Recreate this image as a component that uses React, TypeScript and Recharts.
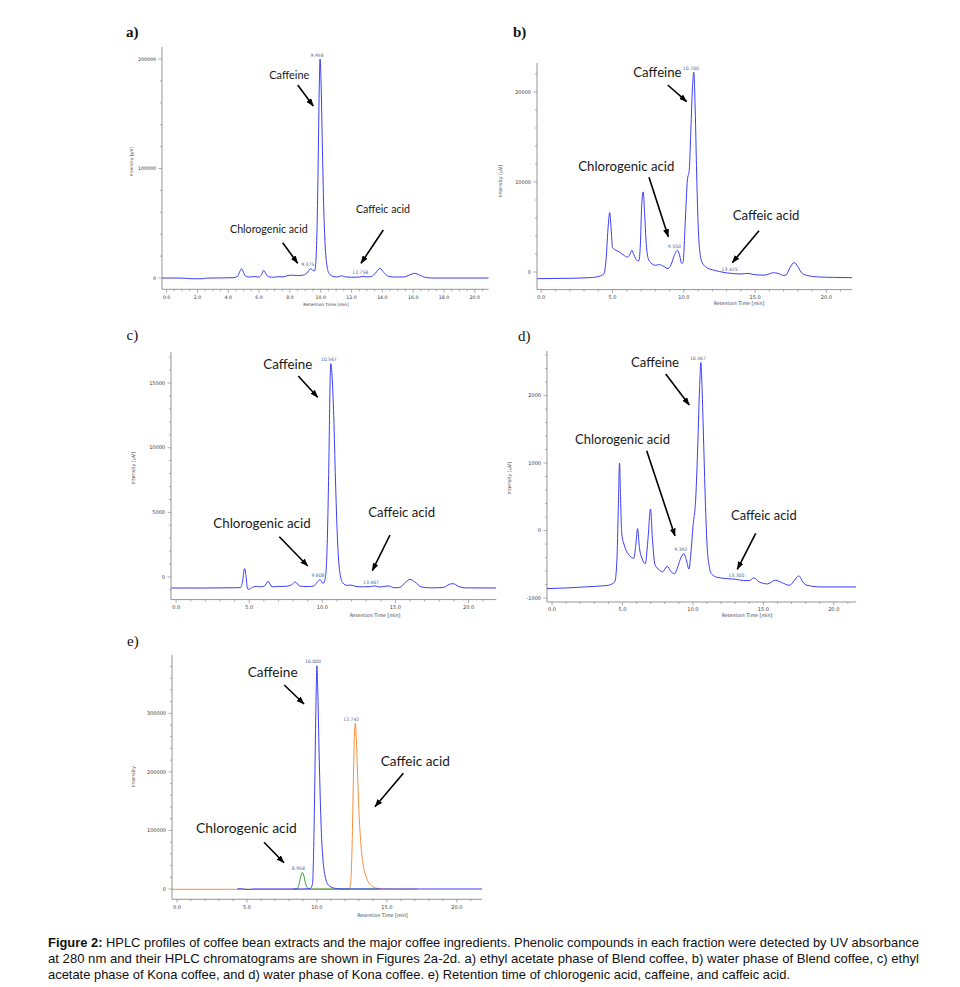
import React from "react";
import { LineChart, Line, XAxis, YAxis, ReferenceDot } from "recharts";

type Pt = [number, number];

// retention time [min], intensity
const traceA: Pt[] = [
  [-0.3, 0], [0.5, 0], [1.2, -200], [1.5, -600], [2.3, -700], [2.6, -100], [3.5, 100], [4.3, 300],
  [4.6, 1500], [4.75, 6000], [4.85, 8500], [4.95, 6500], [5.1, 2000], [5.3, 900], [5.7, 1300], [6.0, 900],
  [6.15, 3000], [6.3, 7000], [6.42, 4500], [6.6, 1200], [7.0, 700], [7.3, 1300], [7.55, 1000], [7.8, 2000],
  [8.1, 2600], [8.5, 2200], [8.8, 2500], [9.1, 4500], [9.35, 8500], [9.5, 6800], [9.6, 6500], [9.68, 14000],
  [9.76, 45000], [9.84, 110000], [9.9, 170000], [9.958, 200000], [10.02, 180000], [10.1, 125000],
  [10.2, 62000], [10.3, 27000], [10.42, 10000], [10.55, 4000], [10.8, 1500], [11.1, 1000], [11.36, 2100],
  [11.6, 1000], [12.0, 700], [12.5, 900], [12.76, 1500], [13.0, 1000], [13.3, 1500], [13.55, 4500],
  [13.84, 8800], [14.1, 5000], [14.4, 1500], [14.8, 900], [15.4, 1000], [15.8, 3000], [16.1, 4300],
  [16.4, 2800], [16.8, 500], [17.3, 0], [20.9, 0],
];

const traceB: Pt[] = [
  [-0.3, -740], [2.0, -700], [3.5, -620], [4.1, -450], [4.4, -200], [4.55, 1500], [4.7, 5200], [4.8, 6600],
  [4.9, 4800], [5.0, 2700], [5.2, 2450], [5.5, 2200], [5.8, 1850], [6.05, 1650], [6.2, 1900], [6.35, 2400],
  [6.5, 1900], [6.7, 1300], [6.85, 1250], [6.95, 3000], [7.05, 7500], [7.15, 8900], [7.25, 6500],
  [7.35, 3500], [7.5, 1500], [7.7, 1000], [8.0, 750], [8.3, 820], [8.6, 600], [8.9, 380], [9.1, 800],
  [9.3, 1700], [9.55, 2400], [9.7, 1900], [9.85, 950], [9.95, 1100], [10.1, 5500], [10.25, 10200],
  [10.38, 11300], [10.5, 16000], [10.6, 20200], [10.7, 22200], [10.8, 18000], [10.9, 11000], [11.0, 5500],
  [11.1, 2600], [11.3, 1000], [11.6, 500], [12.0, 250], [12.5, 50], [13.0, -100], [13.5, -180],
  [14.0, -220], [14.5, -150], [14.8, -250], [15.2, -330], [15.7, -350], [16.0, -200], [16.3, -80],
  [16.6, -150], [17.0, -380], [17.2, -300], [17.45, 500], [17.75, 1050], [18.0, 600], [18.3, -150],
  [18.7, -400], [19.4, -550], [20.5, -600], [21.8, -630],
];

const traceC: Pt[] = [
  [-0.35, -850], [2.0, -850], [4.0, -830], [4.4, -820], [4.55, -300], [4.68, 650], [4.78, 100],
  [4.88, -900], [4.98, -950], [5.2, -800], [5.5, -720], [5.8, -760], [6.05, -700], [6.3, -330],
  [6.55, -760], [7.0, -730], [7.5, -720], [7.9, -600], [8.15, -390], [8.45, -700], [9.0, -740],
  [9.4, -700], [9.65, -400], [9.84, -200], [10.05, -500], [10.2, -100], [10.32, 2000], [10.45, 9000],
  [10.53, 15000], [10.58, 16500], [10.67, 15500], [10.78, 12500], [10.9, 7500], [11.03, 3100],
  [11.18, 500], [11.4, -450], [11.7, -650], [11.95, -620], [12.3, -730], [12.8, -760], [13.3, -740],
  [13.6, -690], [13.9, -770], [14.3, -720], [14.55, -690], [14.9, -830], [15.3, -800], [15.7, -400],
  [16.0, -180], [16.3, -350], [16.8, -780], [17.5, -840], [18.3, -800], [18.7, -560], [18.95, -520],
  [19.3, -720], [19.8, -840], [21.9, -850],
];

const traceD: Pt[] = [
  [-0.36, -860], [1.0, -850], [2.3, -835], [3.5, -820], [4.0, -810], [4.45, -760], [4.6, -450],
  [4.7, 300], [4.79, 1000], [4.86, 500], [4.95, -50], [5.15, -230], [5.5, -370], [5.8, -410],
  [5.95, -200], [6.07, 30], [6.2, -250], [6.4, -420], [6.62, -490], [6.8, -150], [6.99, 320],
  [7.12, -100], [7.3, -500], [7.6, -580], [7.85, -610], [8.17, -530], [8.45, -610], [8.7, -640],
  [8.95, -520], [9.15, -400], [9.36, -340], [9.55, -450], [9.72, -570], [9.85, -350], [10.0, 50],
  [10.2, 480], [10.35, 1300], [10.47, 2100], [10.567, 2490], [10.65, 2100], [10.75, 1400], [10.88, 450],
  [11.0, -200], [11.15, -520], [11.35, -650], [11.7, -690], [12.3, -710], [13.0, -720], [13.6, -740],
  [14.0, -740], [14.33, -700], [14.7, -760], [15.3, -790], [15.85, -735], [16.3, -770], [16.85, -810],
  [17.2, -740], [17.52, -670], [17.8, -760], [18.1, -810], [19.1, -835], [21.6, -835],
];

const traceECaffeine: Pt[] = [
  [4.3, 0], [4.5, 600], [4.7, 0], [5.2, -800], [5.4, 0], [9.0, 0], [9.5, 500], [9.68, 8000],
  [9.76, 60000], [9.84, 170000], [9.92, 300000], [10.0, 381000], [10.06, 340000], [10.14, 250000],
  [10.22, 170000], [10.32, 95000], [10.45, 45000], [10.6, 20000], [10.75, 9000], [11.0, 3500],
  [11.4, 800], [12.0, 0], [21.8, 0],
];

const traceEChlorogenic: Pt[] = [
  [8.3, 0], [8.6, 500], [8.7, 6000], [8.8, 17000], [8.9, 26000], [8.958, 28500], [9.05, 24000],
  [9.15, 13000], [9.25, 5000], [9.4, 1000], [9.6, 0], [14.5, 0],
];

const traceECaffeic: Pt[] = [
  [-0.36, -500], [12.0, -500], [12.3, 0], [12.4, 8000], [12.5, 60000], [12.6, 180000], [12.68, 260000],
  [12.742, 283000], [12.8, 265000], [12.9, 200000], [13.0, 135000], [13.15, 75000], [13.3, 42000],
  [13.5, 22000], [13.7, 11000], [14.0, 4000], [14.4, 800], [15.0, 0], [17.2, -300],
];

// peak retention-time labels
const peaksA = [
  { t: 9.958, v: 200000, label: "9.958" },
  { t: 9.35, v: 8500, label: "9.375" },
  { t: 12.76, v: 1500, label: "12.758" },
];
const peaksB = [
  { t: 10.7, v: 22200, label: "10.700" },
  { t: 9.55, v: 2400, label: "9.550" },
  { t: 13.425, v: -180, label: "13.425" },
];
const peaksC = [
  { t: 10.58, v: 16500, label: "10.567" },
  { t: 9.84, v: -200, label: "9.808" },
  { t: 13.467, v: -720, label: "13.467" },
];
const peaksD = [
  { t: 10.567, v: 2490, label: "10.567" },
  { t: 9.36, v: -340, label: "9.392" },
  { t: 13.3, v: -720, label: "13.300" },
];
const peaksE = [
  { t: 10.0, v: 381000, label: "10.000" },
  { t: 12.742, v: 283000, label: "12.742" },
  { t: 8.958, v: 28500, label: "8.958" },
];

// major tick labels
const xMajorA = [0, 2, 4, 6, 8, 10, 12, 14, 16, 18, 20];
const xMajor = [0, 5, 10, 15, 20];
const yMajorA = [0, 100000, 200000];
const yMajorB = [0, 10000, 20000];
const yMajorC = [0, 5000, 10000, 15000];
const yMajorD = [-1000, 0, 1000, 2000];
const yMajorE = [0, 100000, 200000, 300000];

const BLUE = "#3c3cf5";
const ORANGE = "#f5903c";
const GREEN = "#3a9a3a";
const AXIS = "#7a7a7a";
const TICK_TEXT = "#3a3a3a";
const PEAK_TEXT = "#4a6a9a";
const TICK_FONT = "'DejaVu Sans', Verdana, sans-serif";

const toRows = (tr: Pt[]) => tr.map(([t, v]) => ({ t, v }));

function buildTicks([lo, hi]: number[], step: number) {
  const out: number[] = [];
  for (let i = Math.ceil(lo / step); i * step <= hi + 1e-9; i++) out.push(+(i * step).toFixed(4));
  return out;
}
const isMajor = (majors: number[], v: number) => majors.some((m) => Math.abs(m - v) < 1e-6);

const panels = [
  {
    key: "a", box: { l: 162.3, t: 46.7, r: 489, b: 289 }, xDomain: [-0.3, 20.9], yDomain: [-10300, 211000],
    xMajor: xMajorA, xStep: 0.5, yMajor: yMajorA, yStep: 20000, fs: 4.7, dx: -3,
    series: [{ data: traceA, color: BLUE }], peaks: peaksA,
  },
  {
    key: "b", box: { l: 537.3, t: 62.7, r: 852.3, b: 289.3 }, xDomain: [-0.3, 21.8], yDomain: [-1955, 23220],
    xMajor, xStep: 1, yMajor: yMajorB, yStep: 2000, fs: 5, dx: -3,
    series: [{ data: traceB, color: BLUE }], peaks: peaksB,
  },
  {
    key: "c", box: { l: 170.7, t: 351.7, r: 496, b: 599.3 }, xDomain: [-0.35, 21.9], yDomain: [-1747, 17400],
    xMajor, xStep: 1, yMajor: yMajorC, yStep: 1000, fs: 5, dx: -2,
    series: [{ data: traceC, color: BLUE }], peaks: peaksC,
  },
  {
    key: "d", box: { l: 546.7, t: 350.7, r: 856, b: 601.7 }, xDomain: [-0.36, 21.6], yDomain: [-1058, 2661],
    xMajor, xStep: 1, yMajor: yMajorD, yStep: 200, fs: 5, dx: -3,
    series: [{ data: traceD, color: BLUE }], peaks: peaksD,
  },
  {
    key: "e", box: { l: 171.7, t: 655, r: 481.7, b: 899.3 }, xDomain: [-0.36, 21.8], yDomain: [-17590, 399500],
    xMajor, xStep: 1, yMajor: yMajorE, yStep: 20000, fs: 5, dx: -4,
    series: [
      { data: traceECaffeic, color: ORANGE },
      { data: traceEChlorogenic, color: GREEN },
      { data: traceECaffeine, color: BLUE },
    ],
    peaks: peaksE,
  },
];

const YW = 40;

function Chromatogram({ p }: { p: (typeof panels)[number] }) {
  const w = p.box.r - p.box.l + YW + 10;
  const h = p.box.b - p.box.t + 10 + 30;
  const xTicks = buildTicks(p.xDomain, p.xStep);
  const yTicks = buildTicks(p.yDomain, p.yStep);
  return (
    <div style={{ position: "absolute", left: p.box.l - YW, top: p.box.t - 10 }}>
      <LineChart width={w} height={h} margin={{ top: 10, right: 10, bottom: 0, left: 0 }}>
        <XAxis
          type="number" dataKey="t" domain={p.xDomain} allowDataOverflow ticks={xTicks} interval={0}
          tickSize={0} tickMargin={0} tickLine={false} height={30}
          axisLine={{ stroke: AXIS, strokeWidth: 0.8 }}
          tick={(props: any) => {
            const major = isMajor(p.xMajor, props.payload.value);
            return (
              <g>
                <line x1={props.x} x2={props.x} y1={props.y} y2={props.y + (major ? 3.5 : 2)} stroke={AXIS} strokeWidth={0.6} />
                {major && (
                  <text x={props.x} y={props.y + 9.5} textAnchor="middle" fontSize={p.fs} fill={TICK_TEXT} fontFamily={TICK_FONT}>
                    {props.payload.value.toFixed(1)}
                  </text>
                )}
              </g>
            );
          }}
        />
        <YAxis
          type="number" domain={p.yDomain} allowDataOverflow ticks={yTicks} interval={0}
          tickSize={0} tickMargin={0} tickLine={false} width={YW}
          axisLine={{ stroke: AXIS, strokeWidth: 0.8 }}
          tick={(props: any) => {
            const major = isMajor(p.yMajor, props.payload.value);
            return (
              <g>
                <line x1={props.x} x2={props.x - (major ? 3.5 : 2)} y1={props.y} y2={props.y} stroke={AXIS} strokeWidth={0.6} />
                {major && (
                  <text x={props.x - 6} y={props.y + 1.8} textAnchor="end" fontSize={p.fs} fill={TICK_TEXT} fontFamily={TICK_FONT}>
                    {String(props.payload.value)}
                  </text>
                )}
              </g>
            );
          }}
        />
        {p.series.map((s, i) => (
          <Line
            key={i} data={toRows(s.data)} dataKey="v" type="monotone" stroke={s.color} strokeWidth={1}
            dot={false} activeDot={false} isAnimationActive={false}
          />
        ))}
        {p.peaks.map((pk) => (
          <ReferenceDot
            key={pk.label} x={pk.t} y={pk.v} r={0} ifOverflow="visible"
            shape={(props: any) => (
              <text x={props.cx + p.dx} y={props.cy - 2.5} textAnchor="middle" fontSize={4.6} fill={PEAK_TEXT} fontFamily={TICK_FONT}>
                {pk.label}
              </text>
            )}
          />
        ))}
      </LineChart>
    </div>
  );
}

// page-level annotation layout
const notes = [
  { text: "Caffeine", x: 269.3, y: 79, w: 40, fs: 11 },
  { text: "Chlorogenic acid", x: 230, y: 233.3, w: 77.7, fs: 11 },
  { text: "Caffeic acid", x: 356, y: 212.7, w: 54, fs: 11 },
  { text: "Caffeine", x: 633.3, y: 76.7, w: 48.3, fs: 13 },
  { text: "Chlorogenic acid", x: 578.3, y: 170.7, w: 96, fs: 13 },
  { text: "Caffeic acid", x: 732.7, y: 220, w: 66.7, fs: 13 },
  { text: "Caffeine", x: 263.3, y: 369.3, w: 49, fs: 13 },
  { text: "Chlorogenic acid", x: 213.3, y: 528.3, w: 97.4, fs: 13 },
  { text: "Caffeic acid", x: 368.3, y: 516.7, w: 66.7, fs: 13 },
  { text: "Caffeine", x: 631, y: 366.7, w: 48, fs: 13 },
  { text: "Chlorogenic acid", x: 575, y: 444, w: 95, fs: 13 },
  { text: "Caffeic acid", x: 731, y: 520, w: 65.7, fs: 13 },
  { text: "Caffeine", x: 247.7, y: 676.7, w: 50, fs: 13 },
  { text: "Caffeic acid", x: 380.7, y: 766, w: 69.3, fs: 13 },
  { text: "Chlorogenic acid", x: 196, y: 833.3, w: 100.7, fs: 13 },
];

const arrows = [
  [297.7, 85, 313.3, 106], [282.7, 242.7, 297.7, 263.3], [383.3, 230, 361, 263.3],
  [667.7, 85, 686.7, 101.7], [649, 177.3, 668.3, 236.7], [759, 230.7, 732.3, 262.7],
  [298.3, 376, 317.7, 397.3], [279.3, 536.7, 307.7, 566], [390, 535, 372.3, 570.7],
  [665.7, 374, 689.3, 405], [646.7, 450.7, 675, 536], [755.7, 533.3, 737.3, 569.3],
  [284.3, 685, 304, 704], [403.3, 773.3, 375, 806.7], [264, 842.3, 284, 862.7],
];

const axisTitles = [
  { text: "Intensity [µV]", x: 131.7, y: 161.7, rot: true, fs: 4.3 },
  { text: "Retention Time [min]", x: 326, y: 304.3, rot: false, fs: 4.3 },
  { text: "Intensity [µV]", x: 500, y: 181, rot: true, fs: 4.8 },
  { text: "Retention Time [min]", x: 739, y: 303.3, rot: false, fs: 4.8 },
  { text: "Intensity [µV]", x: 134, y: 468.3, rot: true, fs: 4.8 },
  { text: "Retention Time [min]", x: 375, y: 615, rot: false, fs: 4.8 },
  { text: "Intensity [µV]", x: 510, y: 478.3, rot: true, fs: 4.8 },
  { text: "Retention Time [min]", x: 747, y: 615.3, rot: false, fs: 4.8 },
  { text: "Intensity", x: 134, y: 776.7, rot: true, fs: 4.8 },
  { text: "Retention Time [min]", x: 382.5, y: 915.3, rot: false, fs: 4.8 },
];

const letters = [
  { text: "a)", x: 126, y: 36.5, bold: true },
  { text: "b)", x: 513, y: 36.5, bold: true },
  { text: "c)", x: 126.5, y: 340, bold: false },
  { text: "d)", x: 518, y: 341, bold: false },
  { text: "e)", x: 127, y: 646, bold: false },
];

const captionLines = [
  {
    bold: "Figure 2:",
    rest: " HPLC profiles of coffee bean extracts and the major coffee ingredients. Phenolic compounds in each fraction were detected by UV absorbance",
    w: 871,
  },
  { bold: "", rest: "at 280 nm and their HPLC chromatograms are shown in Figures 2a-2d. a) ethyl acetate phase of Blend coffee, b) water phase of Blend coffee, c) ethyl", w: 871 },
  { bold: "", rest: "acetate phase of Kona coffee, and d) water phase of Kona coffee. e) Retention time of chlorogenic acid, caffeine, and caffeic acid.", w: 742 },
];

export default function App() {
  return (
    <div style={{ position: "absolute", left: 0, top: 0, width: 960, height: 987, background: "#fff", overflow: "hidden" }}>
      {panels.map((p) => (
        <Chromatogram key={p.key} p={p} />
      ))}
      <svg width={960} height={987} style={{ position: "absolute", left: 0, top: 0, pointerEvents: "none" }}>
        <defs>
          <marker id="head" viewBox="0 0 8 6" refX={7.5} refY={3} markerWidth={8} markerHeight={6} markerUnits="userSpaceOnUse" orient="auto">
            <path d="M0,0 L8,3 L0,6 z" fill="#000" />
          </marker>
        </defs>
        {letters.map((l) => (
          <text key={l.text} x={l.x} y={l.y} fontSize={15} fontFamily="'Liberation Serif', 'Times New Roman', serif" fontWeight={l.bold ? 700 : 400} fill="#111">
            {l.text}
          </text>
        ))}
        {axisTitles.map((a, i) => (
          <text
            key={i} x={a.x} y={a.y} fontSize={a.fs} fill="#444" fontFamily={TICK_FONT} textAnchor="middle"
            dominantBaseline="central" transform={a.rot ? `rotate(-90 ${a.x} ${a.y})` : undefined}
          >
            {a.text}
          </text>
        ))}
        {notes.map((n, i) => (
          <text key={i} x={n.x} y={n.y} fontSize={n.fs} fontFamily="Lato, 'Open Sans', sans-serif" fill="#1a1a1a" textLength={n.w} lengthAdjust="spacingAndGlyphs">
            {n.text}
          </text>
        ))}
        {arrows.map(([x1, y1, x2, y2], i) => (
          <line key={i} x1={x1} y1={y1} x2={x2} y2={y2} stroke="#000" strokeWidth={1.6} markerEnd="url(#head)" />
        ))}
        {captionLines.map((c, i) => (
          <text
            key={i} x={48} y={947 + i * 16} fontSize={13} fill="#111"
            fontFamily="'Liberation Sans Narrow', 'Arial Narrow', 'Liberation Sans', Arial, sans-serif"
            textLength={c.w} lengthAdjust="spacingAndGlyphs"
          >
            {c.bold && <tspan fontWeight={700}>{c.bold}</tspan>}
            {c.rest}
          </text>
        ))}
      </svg>
    </div>
  );
}
